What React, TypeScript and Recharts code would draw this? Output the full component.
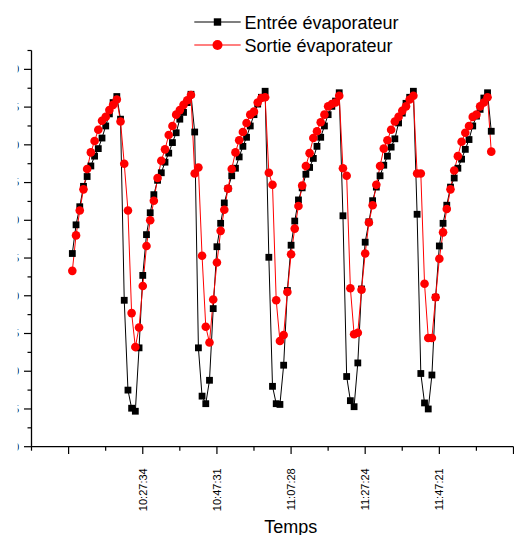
import React from 'react'
import { LineChart, Line, XAxis, YAxis, Legend, Label } from 'recharts'

// one reading per minute (logger clock)
const sampleTimes = [
  '10:08:37', '10:09:37', '10:10:37', '10:11:37', '10:12:36', '10:13:36', '10:14:36', '10:15:36', '10:16:36', '10:17:36',
  '10:18:35', '10:19:35', '10:20:35', '10:21:35', '10:22:35', '10:23:35', '10:24:34', '10:25:34', '10:26:34', '10:27:34',
  '10:28:34', '10:29:34', '10:30:33', '10:31:33', '10:32:33', '10:33:33', '10:34:33', '10:35:33', '10:36:33', '10:37:32',
  '10:38:32', '10:39:32', '10:40:32', '10:41:32', '10:42:32', '10:43:31', '10:44:31', '10:45:31', '10:46:31', '10:47:31',
  '10:48:31', '10:49:30', '10:50:30', '10:51:30', '10:52:30', '10:53:30', '10:54:30', '10:55:29', '10:56:29', '10:57:29',
  '10:58:29', '10:59:29', '11:00:29', '11:01:29', '11:02:28', '11:03:28', '11:04:28', '11:05:28', '11:06:28', '11:07:28',
  '11:08:27', '11:09:27', '11:10:27', '11:11:27', '11:12:27', '11:13:27', '11:14:26', '11:15:26', '11:16:26', '11:17:26',
  '11:18:26', '11:19:26', '11:20:25', '11:21:25', '11:22:25', '11:23:25', '11:24:25', '11:25:25', '11:26:25', '11:27:24',
  '11:28:24', '11:29:24', '11:30:24', '11:31:24', '11:32:24', '11:33:23', '11:34:23', '11:35:23', '11:36:23', '11:37:23',
  '11:38:23', '11:39:22', '11:40:22', '11:41:22', '11:42:22', '11:43:22', '11:44:22', '11:45:21', '11:46:21', '11:47:21',
  '11:48:21', '11:49:21', '11:50:21', '11:51:21', '11:52:20', '11:53:20', '11:54:20', '11:55:20', '11:56:20', '11:57:20',
  '11:58:19', '11:59:19', '12:00:19', '12:01:19',
]

const entreeEvaporateur = [
  5.6, 9.4, 11.8, 14.5, 15.8, 17.2, 18.5, 19.5, 20.9, 22.5,
  24.1, 25.6, 26.4, 23.4, -0.6, -12.5, -14.9, -15.3, -6.9, 2.7,
  8.1, 11.0, 13.4, 15.3, 16.3, 17.7, 18.9, 20.3, 21.6, 23.4,
  24.3, 25.6, 26.7, 21.7, -6.9, -13.3, -14.3, -11.2, -1.7, 6.5,
  9.6, 12.3, 14.2, 15.9, 16.9, 18.4, 19.8, 21.0, 22.5, 24.0,
  25.4, 26.3, 27.1, 5.1, -12.0, -14.3, -14.4, -9.2, 0.7, 6.7,
  9.9, 12.7, 14.3, 16.1, 17.0, 18.2, 19.8, 21.0, 22.5, 24.0,
  25.1, 25.8, 26.9, 10.6, -10.7, -13.9, -14.7, -8.9, 0.9, 7.1,
  9.8, 12.6, 14.4, 15.9, 17.3, 18.5, 19.7, 20.8, 22.9, 24.2,
  25.5, 26.3, 27.1, 10.8, -10.3, -14.2, -15.0, -10.5, -0.2, 6.6,
  9.6, 12.0, 14.4, 15.6, 16.9, 18.1, 19.4, 20.7, 22.5, 23.8,
  24.7, 26.2, 26.9, 21.8,
]

const sortieEvaporateur = [
  3.3, 8.0, 11.3, 14.1, 16.8, 19.0, 20.5, 22.0, 23.2, 23.7,
  24.6, 25.3, 26.0, 23.1, 17.5, 11.3, -2.3, -6.8, -4.2, 1.3,
  6.6, 10.0, 12.6, 15.6, 17.9, 19.4, 21.3, 22.5, 24.0, 24.6,
  25.3, 25.9, 26.6, 16.2, 17.0, 5.3, -4.1, -6.2, -0.5, 4.4,
  8.6, 11.4, 14.2, 16.8, 19.0, 20.6, 21.7, 22.9, 24.0, 24.4,
  25.6, 26.2, 26.3, 16.3, 14.7, -0.6, -6.0, -5.2, 0.5, 5.5,
  8.9, 11.9, 14.6, 17.2, 18.9, 20.9, 21.8, 23.0, 24.0, 25.1,
  25.4, 25.6, 26.5, 16.9, 15.9, 1.0, -5.1, -4.9, 0.8, 5.6,
  9.7, 12.0, 14.7, 17.2, 19.5, 20.6, 22.0, 23.1, 23.7, 24.5,
  25.1, 26.0, 26.5, 16.2, 16.2, 1.6, -5.6, -5.6, -0.2, 4.9,
  8.4, 11.5, 14.1, 16.6, 18.5, 20.4, 21.6, 22.5, 23.7, 24.0,
  25.1, 25.6, 26.3, 19.1,
]

const timeDomain = ['09:57:38', '12:07:18']
const timeMajorTicks = ['10:07:37', '10:27:34', '10:47:31', '11:07:28', '11:27:24', '11:47:21', '12:07:18']
const timeMinorTicks = ['09:57:38', '10:17:35', '10:37:32', '10:57:29', '11:17:26', '11:37:22', '11:57:19']
const timeTickLabels = ['10:27:34', '10:47:31', '11:07:28', '11:27:24', '11:47:21']

const tempDomain = [-20, 32.5]
const tempMajorTicks = [-20, -15, -10, -5, 0, 5, 10, 15, 20, 25, 30]
const tempMinorTicks = [-17.5, -12.5, -7.5, -2.5, 2.5, 7.5, 12.5, 17.5, 22.5, 27.5, 32.5]

const FONT = '"Liberation Sans", Arial, sans-serif'

const toSeconds = (t: string) => {
  const [h, m, s] = t.split(':').map(Number)
  return h * 3600 + m * 60 + s
}

const formatTime = (sec: number) => {
  const h = Math.floor(sec / 3600)
  const m = Math.floor((sec % 3600) / 60)
  const s = sec % 60
  return [h, m, s].map((v) => String(v).padStart(2, '0')).join(':')
}

const data = sampleTimes.map((t, i) => ({
  t: toSeconds(t),
  entree: entreeEvaporateur[i],
  sortie: sortieEvaporateur[i],
}))

const xMajor = new Set(timeMajorTicks.map(toSeconds))
const xLabelled = new Set(timeTickLabels.map(toSeconds))
const xTicks = [...timeMajorTicks, ...timeMinorTicks].map(toSeconds).sort((a, b) => a - b)
const yTicks = [...tempMajorTicks, ...tempMinorTicks].sort((a, b) => a - b)

const XTick = (props: any) => {
  const { x, y, payload } = props
  const v = payload.value
  const major = xMajor.has(v)
  const ty = y + 21.6
  return (
    <g>
      <line x1={x} x2={x} y1={y} y2={y + (major ? 7.3 : 4)} stroke="#000" strokeWidth={1.2} />
      {xLabelled.has(v) && (
        <text
          x={x}
          y={ty}
          dy="0.36em"
          transform={`rotate(-90 ${x} ${ty})`}
          textAnchor="end"
          fontSize={11}
          fontFamily={FONT}
          fill="#000"
        >
          {formatTime(v)}
        </text>
      )}
    </g>
  )
}

// the tick labels of the source are cut off by the left edge of the image
const YTick = (props: any) => {
  const { x, y, payload } = props
  const v = payload.value
  const idx = tempMajorTicks.indexOf(v)
  const major = idx >= 0
  return (
    <g>
      <line x1={x - (major ? 7.5 : 4)} x2={x} y1={y} y2={y} stroke="#000" strokeWidth={1.2} />
      {major && (
        <>
          <clipPath id={`ycut-${idx}`}>
            <rect x={17.7} y={y - 10} width={10} height={20} />
          </clipPath>
          <text
            x={19.2}
            y={y}
            dy="0.35em"
            textAnchor="end"
            fontSize={11}
            fontFamily={FONT}
            fill="#000"
            clipPath={`url(#ycut-${idx})`}
          >
            {v}
          </text>
        </>
      )}
    </g>
  )
}

const SquareDot = (props: any) => {
  const { cx, cy, index } = props
  if (cx == null || cy == null) return <g key={index} />
  return <rect key={index} x={cx - 3.4} y={cy - 3.4} width={6.8} height={6.8} fill="#000" />
}

const LegendBox = (props: any) => {
  const items = props.payload || []
  return (
    <svg width={514} height={60} style={{ display: 'block' }}>
      {items.map((item: any, i: number) => {
        const cy = 22 + i * 23
        const color = item.color
        return (
          <g key={item.value}>
            <line x1={194.3} x2={240.7} y1={cy} y2={cy} stroke={color} strokeWidth={1.2} />
            {item.dataKey === 'entree' ? (
              <rect x={217.5 - 3.7} y={cy - 3.7} width={7.4} height={7.4} fill={color} />
            ) : (
              <circle cx={217.5} cy={cy} r={5} fill={color} />
            )}
            <text x={244.5} y={cy + 7.3} fontSize={18} fontFamily={FONT} fill="#000">
              {item.value}
            </text>
          </g>
        )
      })}
    </svg>
  )
}

export default function App() {
  return (
    <div style={{ position: 'absolute', left: 0, top: 0, width: 514, height: 535, background: '#fff' }}>
      <LineChart
        width={514}
        height={535}
        data={data}
        margin={{ top: 50.5, right: 0.5, bottom: 0, left: 0 }}
      >
        <XAxis
          dataKey="t"
          type="number"
          domain={timeDomain.map(toSeconds)}
          ticks={xTicks}
          interval={0}
          allowDataOverflow
          height={88.3}
          tickSize={0}
          tickMargin={0}
          tickLine={false}
          tick={XTick}
          axisLine={{ stroke: '#000', strokeWidth: 1.3 }}
        >
          <Label
            content={() => (
              <text x={290.7} y={532.5} textAnchor="middle" fontSize={18} fontFamily={FONT} fill="#000">
                Temps
              </text>
            )}
          />
        </XAxis>
        <YAxis
          type="number"
          domain={tempDomain}
          ticks={yTicks}
          interval={0}
          allowDataOverflow
          width={31.5}
          tickSize={0}
          tickMargin={0}
          tickLine={false}
          tick={YTick}
          axisLine={{ stroke: '#000', strokeWidth: 1.3 }}
        />
        <Legend
          layout="vertical"
          verticalAlign="middle"
          align="center"
          content={LegendBox}
          wrapperStyle={{ position: 'absolute', left: 0, top: 0, width: 514, height: 60 }}
        />
        <Line
          type="linear"
          dataKey="entree"
          name="Entrée évaporateur"
          stroke="#000"
          strokeWidth={1}
          dot={SquareDot}
          activeDot={false}
          isAnimationActive={false}
        />
        <Line
          type="linear"
          dataKey="sortie"
          name="Sortie évaporateur"
          stroke="#ff0000"
          strokeWidth={1}
          dot={{ r: 4.3, fill: '#ff0000', stroke: '#ff0000', strokeWidth: 0 }}
          activeDot={false}
          isAnimationActive={false}
        />
      </LineChart>
    </div>
  )
}
